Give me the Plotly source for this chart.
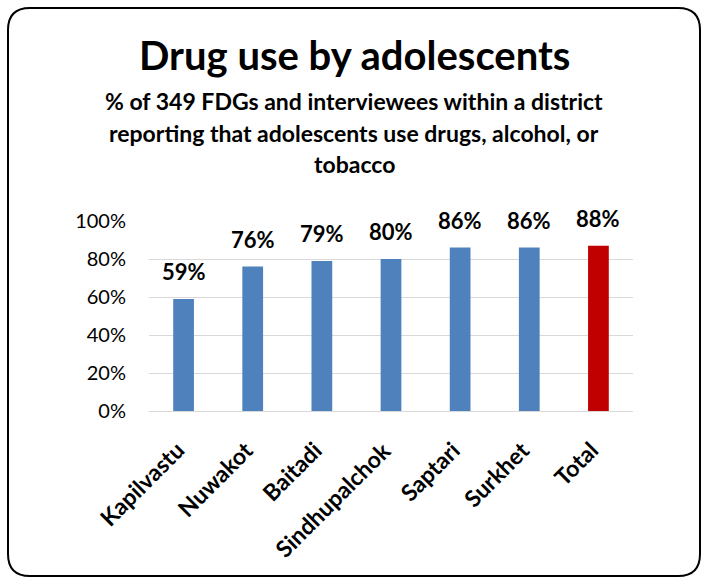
import plotly.graph_objects as go

districts = ["Kapilvastu", "Nuwakot", "Baitadi", "Sindhupalchok", "Saptari", "Surkhet", "Total"]
values = [0.59, 0.76, 0.79, 0.80, 0.86, 0.86, 0.87]
value_labels = ["59%", "76%", "79%", "80%", "86%", "86%", "88%"]
bar_colors = ["#4F81BD"] * 6 + ["#C00000"]
y_ticks = [0, 0.2, 0.4, 0.6, 0.8, 1.0]
y_tick_labels = ["0%", "20%", "40%", "60%", "80%", "100%"]

title_text = "Drug use by adolescents"
subtitle_lines = [
    "% of 349 FDGs and interviewees within a district",
    "reporting that adolescents use drugs, alcohol, or",
    "tobacco",
]

W, H = 708, 579
L, R, T, B = 149, 75, 221, 168
PW, PH = W - L - R, H - T - B

def px(x):
    return (x - L) / PW

def py(y):
    return (H - B - y) / PH

font = "Lato, Carlito, Calibri, sans-serif"

fig = go.Figure(
    go.Bar(
        x=districts,
        y=values,
        marker=dict(color=bar_colors, line=dict(width=0)),
        width=0.3,
        cliponaxis=False,
    )
)

for d, v, lab in zip(districts, values, value_labels):
    fig.add_annotation(
        x=d, y=v, xref="x", yref="y", text=lab, showarrow=False,
        xanchor="center", yanchor="bottom", yshift=12,
        font=dict(family=font, size=22, color="#000000", weight="bold"),
    )

# category labels, rotated
for d in districts:
    fig.add_annotation(
        x=d, y=0, xref="x", yref="y", text=d, showarrow=False,
        textangle=-45, xanchor="right", yanchor="top", xshift=8, yshift=-22,
        font=dict(family=font, size=23, color="#000000", weight="bold"),
    )

# rounded border
x0, x1, y0, y1, r = 8, 700, 8, 576, 22
path = (
    f"M {px(x0 + r)},{py(y0)} L {px(x1 - r)},{py(y0)} "
    f"Q {px(x1)},{py(y0)} {px(x1)},{py(y0 + r)} "
    f"L {px(x1)},{py(y1 - r)} "
    f"Q {px(x1)},{py(y1)} {px(x1 - r)},{py(y1)} "
    f"L {px(x0 + r)},{py(y1)} "
    f"Q {px(x0)},{py(y1)} {px(x0)},{py(y1 - r)} "
    f"L {px(x0)},{py(y0 + r)} "
    f"Q {px(x0)},{py(y0)} {px(x0 + r)},{py(y0)} Z"
)
fig.add_shape(type="path", xref="paper", yref="paper", path=path,
              line=dict(color="#000000", width=2), layer="below")

fig.add_annotation(
    x=px(354), y=py(55), xref="paper", yref="paper", text=title_text,
    showarrow=False, xanchor="center", yanchor="middle",
    font=dict(family=font, size=40, color="#000000", weight="bold"),
)
for i, line in enumerate(subtitle_lines):
    fig.add_annotation(
        x=px(354), y=py(101 + 31.5 * i), xref="paper", yref="paper", text=line,
        showarrow=False, xanchor="center", yanchor="middle",
        font=dict(family=font, size=23, color="#000000", weight="bold"),
    )

fig.update_layout(
    width=W, height=H,
    margin=dict(l=L, r=R, t=T, b=B, pad=0),
    paper_bgcolor="#FFFFFF",
    plot_bgcolor="#FFFFFF",
    showlegend=False,
    bargap=0.7,
)
fig.update_yaxes(
    range=[0, 1.0], autorange=False, tickvals=y_ticks, ticktext=y_tick_labels,
    showgrid=True, gridcolor="#D9D9D9", gridwidth=1,
    zeroline=True, zerolinecolor="#D9D9D9", zerolinewidth=1,
    showline=False, ticks="", ticklabelstandoff=22,
    tickfont=dict(family=font, size=20, color="#000000"),
)
fig.update_xaxes(
    range=[-0.5, len(districts) - 0.5], autorange=False,
    showgrid=False, showline=True, linecolor="#D9D9D9", ticks="",
    showticklabels=False,
)

fig.write_html("out.html")
